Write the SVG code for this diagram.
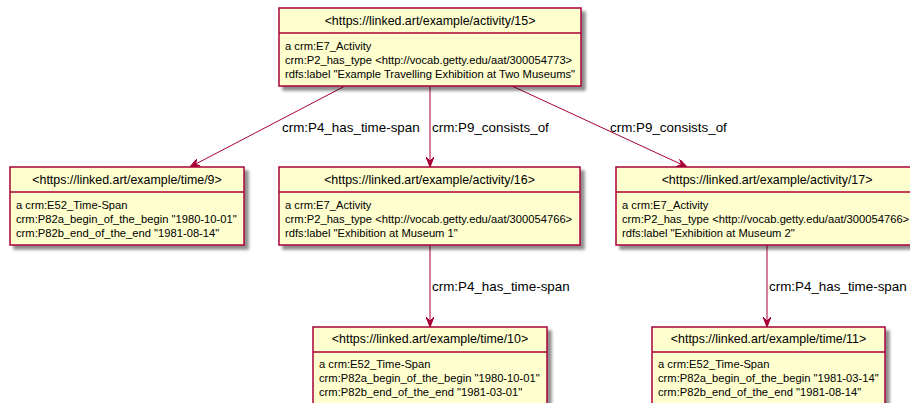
<svg xmlns="http://www.w3.org/2000/svg" width="910" height="403" viewBox="0 0 910 403">
<defs>
<style>
.box{fill:#FEFECE;stroke:#A80036;stroke-width:1.5}
.sep{stroke:#A80036;stroke-width:1.5}
.title{font-family:"Liberation Sans",Arial,sans-serif;font-size:12.4px;fill:#000;text-anchor:middle}
.body{font-family:"Liberation Sans",Arial,sans-serif;font-size:11.2px;fill:#000}
.elabel{font-family:"Liberation Sans",Arial,sans-serif;font-size:13.4px;fill:#000}
.edge{stroke:#A80036;stroke-width:1;fill:none;marker-end:url(#arr)}
</style>
<filter id="sh" x="-10%" y="-10%" width="130%" height="140%">
<feGaussianBlur in="SourceAlpha" stdDeviation="1.8"/>
<feOffset dx="4" dy="4" result="b"/>
<feComponentTransfer><feFuncA type="linear" slope="0.45"/></feComponentTransfer>
<feMerge><feMergeNode/><feMergeNode in="SourceGraphic"/></feMerge>
</filter>
<marker id="arr" markerWidth="10" markerHeight="8" refX="10" refY="4" orient="auto" markerUnits="userSpaceOnUse">
<path d="M0,0 L10,4 L0,8 L4,4 Z" fill="#A80036" stroke="#A80036" stroke-width="1"/>
</marker>
</defs>
<rect width="910" height="403" fill="#fff"/>

<g id="connectors">
<line class="edge" x1="345" y1="86" x2="190" y2="167"/>
<text class="elabel" x="282" y="132">crm:P4_has_time-span</text>
<line class="edge" x1="430" y1="86" x2="430" y2="167"/>
<text class="elabel" x="432" y="132">crm:P9_consists_of</text>
<line class="edge" x1="512" y1="86" x2="687" y2="167"/>
<text class="elabel" x="610" y="132">crm:P9_consists_of</text>
<line class="edge" x1="430" y1="245" x2="430" y2="327"/>
<text class="elabel" x="432" y="291">crm:P4_has_time-span</text>
<line class="edge" x1="767" y1="245" x2="767" y2="327"/>
<text class="elabel" x="769" y="291">crm:P4_has_time-span</text>
</g>

<g id="activity15">
<rect class="box" x="279" y="8" width="302" height="78" filter="url(#sh)"/>
<line class="sep" x1="279" y1="33" x2="581" y2="33"/>
<text class="title" x="430" y="25">&lt;https://linked.art/example/activity/15&gt;</text>
<text class="body" x="285" y="50">a crm:E7_Activity</text>
<text class="body" x="285" y="64">crm:P2_has_type &lt;http://vocab.getty.edu/aat/300054773&gt;</text>
<text class="body" x="285" y="78">rdfs:label "Example Travelling Exhibition at Two Museums"</text>
</g>

<g id="time9">
<rect class="box" x="10" y="167" width="234" height="78" filter="url(#sh)"/>
<line class="sep" x1="10" y1="192" x2="244" y2="192"/>
<text class="title" x="127" y="184">&lt;https://linked.art/example/time/9&gt;</text>
<text class="body" x="16" y="209">a crm:E52_Time-Span</text>
<text class="body" x="16" y="223">crm:P82a_begin_of_the_begin "1980-10-01"</text>
<text class="body" x="16" y="237">crm:P82b_end_of_the_end "1981-08-14"</text>
</g>

<g id="activity16">
<rect class="box" x="279" y="167" width="301" height="78" filter="url(#sh)"/>
<line class="sep" x1="279" y1="192" x2="580" y2="192"/>
<text class="title" x="429.5" y="184">&lt;https://linked.art/example/activity/16&gt;</text>
<text class="body" x="285" y="209">a crm:E7_Activity</text>
<text class="body" x="285" y="223">crm:P2_has_type &lt;http://vocab.getty.edu/aat/300054766&gt;</text>
<text class="body" x="285" y="237">rdfs:label "Exhibition at Museum 1"</text>
</g>

<g id="activity17">
<rect class="box" x="616" y="167" width="302" height="78" filter="url(#sh)"/>
<line class="sep" x1="616" y1="192" x2="918" y2="192"/>
<text class="title" x="767" y="184">&lt;https://linked.art/example/activity/17&gt;</text>
<text class="body" x="622" y="209">a crm:E7_Activity</text>
<text class="body" x="622" y="223">crm:P2_has_type &lt;http://vocab.getty.edu/aat/300054766&gt;</text>
<text class="body" x="622" y="237">rdfs:label "Exhibition at Museum 2"</text>
</g>

<g id="time10">
<rect class="box" x="313" y="327" width="234" height="78" filter="url(#sh)"/>
<line class="sep" x1="313" y1="352" x2="547" y2="352"/>
<text class="title" x="430" y="343">&lt;https://linked.art/example/time/10&gt;</text>
<text class="body" x="319" y="368">a crm:E52_Time-Span</text>
<text class="body" x="319" y="382">crm:P82a_begin_of_the_begin "1980-10-01"</text>
<text class="body" x="319" y="396">crm:P82b_end_of_the_end "1981-03-01"</text>
</g>

<g id="time11">
<rect class="box" x="652" y="327" width="233" height="78" filter="url(#sh)"/>
<line class="sep" x1="652" y1="352" x2="885" y2="352"/>
<text class="title" x="768.5" y="343">&lt;https://linked.art/example/time/11&gt;</text>
<text class="body" x="658" y="368">a crm:E52_Time-Span</text>
<text class="body" x="658" y="382">crm:P82a_begin_of_the_begin "1981-03-14"</text>
<text class="body" x="658" y="396">crm:P82b_end_of_the_end "1981-08-14"</text>
</g>
</svg>
